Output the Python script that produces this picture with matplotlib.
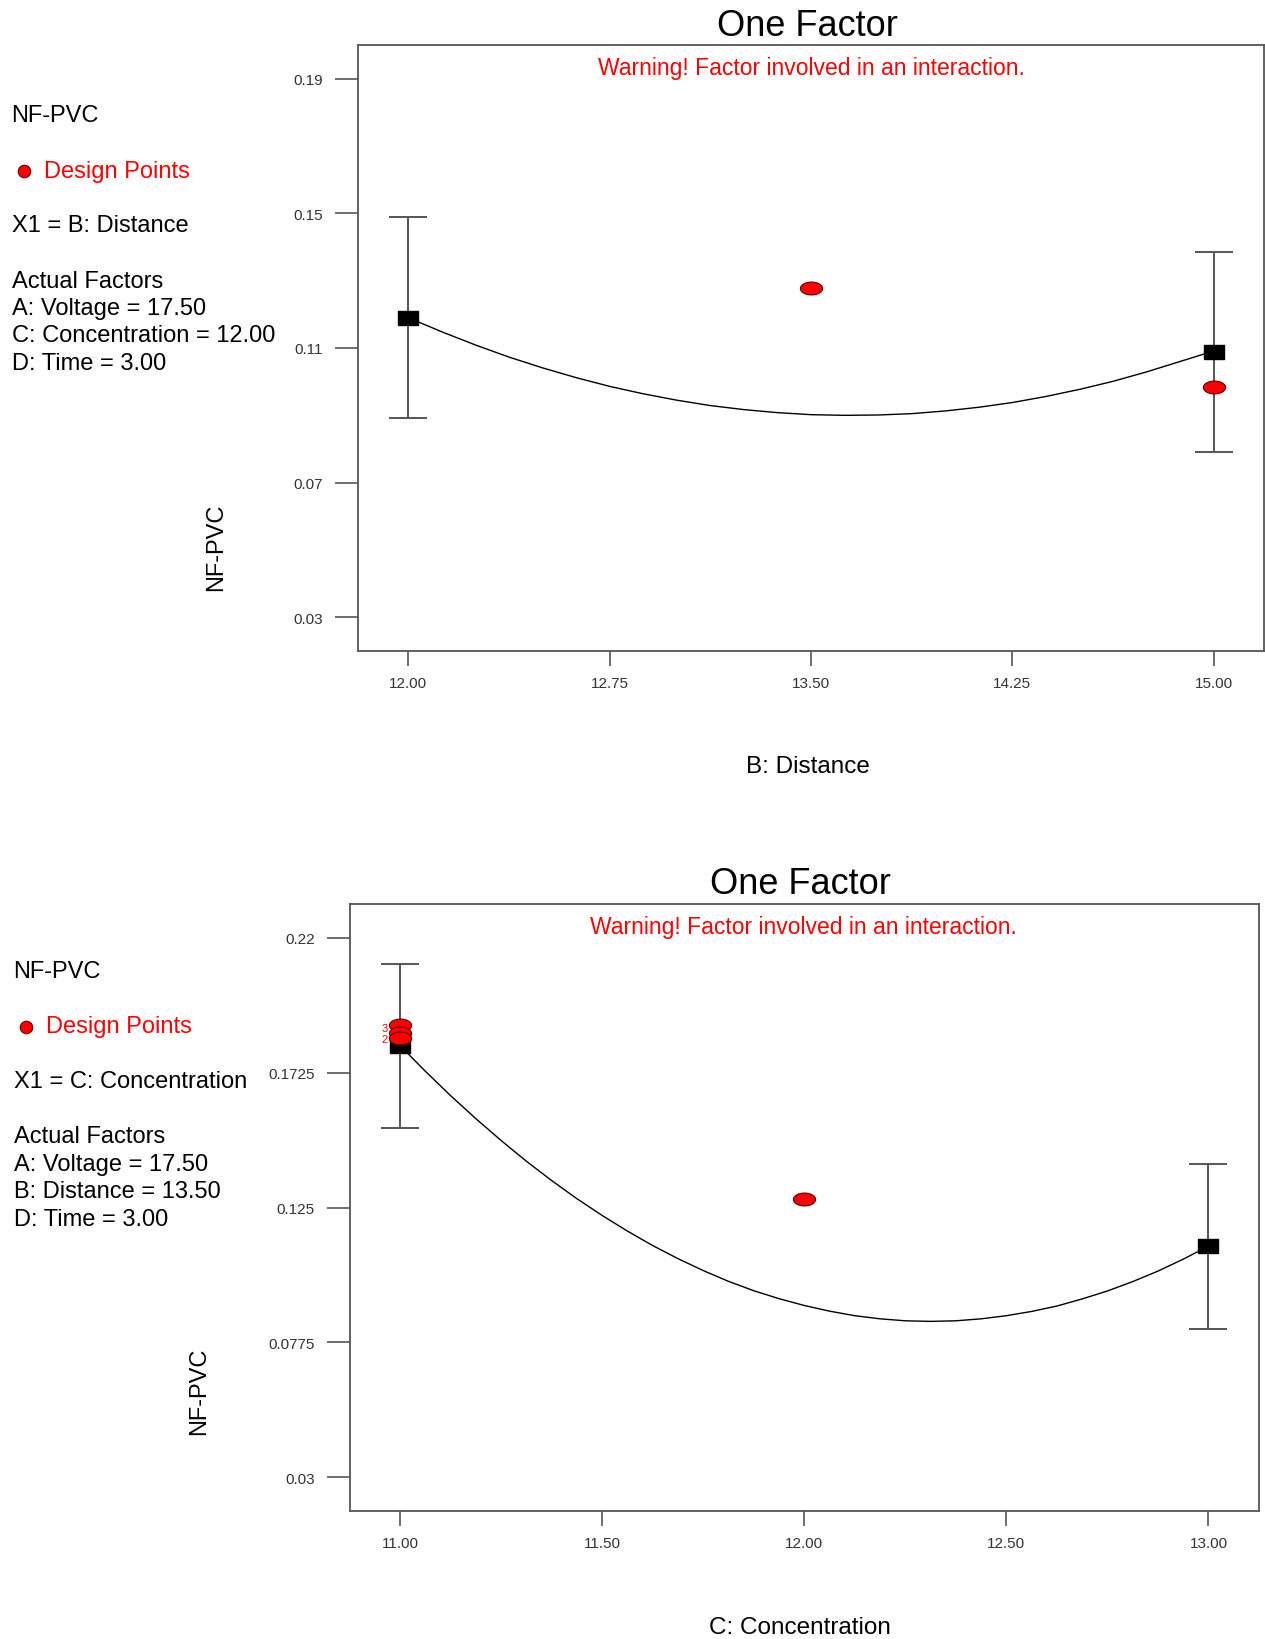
import numpy as np
import matplotlib.pyplot as plt

plt.rcParams['font.family'] = ['Liberation Sans', 'DejaVu Sans']

# ---- panel 1: B: Distance ----
dist_levels = [12.0, 15.0]
dist_pred = [0.119, 0.1088]
dist_err = [0.0298, 0.0297]
dist_design_x = [13.5, 15.0]
dist_design_y = [0.1278, 0.0985]
dist_curve_x = [12.0, 12.125, 12.25, 12.375, 12.5, 12.625, 12.75, 12.875, 13.0, 13.125,
                13.25, 13.375, 13.5, 13.625, 13.75, 13.875, 14.0, 14.125, 14.25, 14.375,
                14.5, 14.625, 14.75, 14.875, 15.0]
dist_curve_y = [0.1190, 0.1148, 0.1109, 0.1073, 0.1041, 0.1012, 0.0986, 0.0964, 0.0945, 0.0929,
                0.0917, 0.0908, 0.0902, 0.0900, 0.0901, 0.0905, 0.0913, 0.0924, 0.0938, 0.0956,
                0.0977, 0.1001, 0.1029, 0.1060, 0.1091]
dist_xticks = [12.00, 12.75, 13.50, 14.25, 15.00]
dist_yticks = [0.03, 0.07, 0.11, 0.15, 0.19]
dist_factors = ['A: Voltage = 17.50', 'C: Concentration = 12.00', 'D: Time = 3.00']

# ---- panel 2: C: Concentration ----
conc_levels = [11.0, 13.0]
conc_pred = [0.182, 0.1113]
conc_err = [0.0289, 0.029]
conc_design_x = [11.0, 11.0, 11.0, 12.0]
conc_design_y = [0.1891, 0.1865, 0.1847, 0.1280]
conc_curve_x = [11.0, 11.0625, 11.125, 11.1875, 11.25, 11.3125, 11.375, 11.4375, 11.5,
                11.5625, 11.625, 11.6875, 11.75, 11.8125, 11.875, 11.9375, 12.0,
                12.0625, 12.125, 12.1875, 12.25, 12.3125, 12.375, 12.4375, 12.5,
                12.5625, 12.625, 12.6875, 12.75, 12.8125, 12.875, 12.9375, 13.0]
conc_curve_y = [0.1820, 0.1730, 0.1644, 0.1563, 0.1486, 0.1413, 0.1345, 0.1281, 0.1222,
                0.1167, 0.1116, 0.1070, 0.1028, 0.0990, 0.0957, 0.0929, 0.0905,
                0.0885, 0.0869, 0.0858, 0.0851, 0.0849, 0.0851, 0.0858, 0.0869,
                0.0884, 0.0903, 0.0928, 0.0956, 0.0989, 0.1026, 0.1068, 0.1114]
conc_xticks = [11.00, 11.50, 12.00, 12.50, 13.00]
conc_yticks = [0.03, 0.0775, 0.125, 0.1725, 0.22]
conc_factors = ['A: Voltage = 17.50', 'B: Distance = 13.50', 'D: Time = 3.00']

W, H = 1265, 1640
fig = plt.figure(figsize=(W / 100, H / 100), dpi=100)


def fx(px):
    return px / W


def fy(py):
    return 1 - py / H


t = np.linspace(0, 2 * np.pi, 40)
ellipse = list(zip(np.cos(t), 0.58 * np.sin(t)))
rect = [(-1, -0.75), (1, -0.75), (1, 0.75), (-1, 0.75), (-1, -0.75)]


def panel(rect_ax, levels, pred, err, dx, dy, cx, cy, xticks, yticks):
    ax = fig.add_axes(rect_ax)
    ax.errorbar(levels, pred, yerr=err, fmt='none', ecolor='#555555', elinewidth=1.4,
                capsize=14, capthick=1.4, zorder=2)
    ax.plot(cx, cy, color='black', lw=1.0, zorder=3)
    ax.plot(levels, pred, linestyle='none', marker=rect, markersize=14, color='black', zorder=4)
    ax.plot(dx, dy, linestyle='none', marker=ellipse, markersize=16, markerfacecolor='red',
            markeredgecolor='#600000', markeredgewidth=0.8, zorder=5)
    xr = xticks[-1] - xticks[0]
    yr = yticks[-1] - yticks[0]
    ax.set_xlim(xticks[0] - 0.0625 * xr, xticks[-1] + 0.0625 * xr)
    ax.set_ylim(yticks[0] - 0.0625 * yr, yticks[-1] + 0.0625 * yr)
    ax.set_xticks(xticks)
    ax.set_xticklabels(['{:.2f}'.format(v) for v in xticks])
    ax.set_yticks(yticks)
    ax.set_yticklabels(['{:g}'.format(v) for v in yticks])
    ax.tick_params(axis='y', direction='out', length=16.5, width=1.2, color='#555555',
                   pad=8.5, labelsize=11, labelcolor='#333333')
    ax.tick_params(axis='x', direction='out', length=10.8, width=1.2, color='#555555',
                   pad=7, labelsize=11, labelcolor='#333333')
    for s in ax.spines.values():
        s.set_color('#555555')
        s.set_linewidth(1.3)
    return ax


ax1 = panel([fx(358), fy(652), fx(1264) - fx(358), fy(46) - fy(652)],
            dist_levels, dist_pred, dist_err, dist_design_x, dist_design_y,
            dist_curve_x, dist_curve_y, dist_xticks, dist_yticks)
ax2 = panel([fx(349.5), fy(1512), fx(1259) - fx(349.5), fy(905) - fy(1512)],
            conc_levels, conc_pred, conc_err, conc_design_x, conc_design_y,
            conc_curve_x, conc_curve_y, conc_xticks, conc_yticks)

# replicate counts next to the stacked points
ax2.annotate('3', (11.0, conc_design_y[0]), xytext=(-11, -2), textcoords='offset points',
             color='red', fontsize=8, ha='center', va='center')
ax2.annotate('2', (11.0, conc_design_y[2]), xytext=(-11, -1), textcoords='offset points',
             color='red', fontsize=8, ha='center', va='center')

texts = [
    # title xy, warning xy, x label, x label xy, y label xy, left column x, left column ys
    (807.7, 26, 811, 69, 'B: Distance', 807.7, 767, 216.6, 547, 11.5,
     [116, 171.6, 226, 281.5], 'X1 = B: Distance', dist_factors),
    (800.4, 885, 803.6, 928, 'C: Concentration', 800.4, 1628, 198.8, 1391.6, 13.6,
     [972, 1027.5, 1082, 1137.3], 'X1 = C: Concentration', conc_factors),
]

for (tx, ty, wx, wy, xl, xlx, xly, ylx, yly, lx, ly, x1, factors) in texts:
    fig.text(fx(tx), fy(ty), 'One Factor', fontsize=26, ha='center', va='center')
    fig.text(fx(wx), fy(wy), 'Warning! Factor involved in an interaction.', color='red',
             fontsize=16.5, ha='center', va='center')
    fig.text(fx(xlx), fy(xly), xl, fontsize=17.5, ha='center', va='center')
    fig.text(fx(ylx), fy(yly), 'NF-PVC', fontsize=17, ha='center', va='center', rotation=90)
    fig.text(fx(lx), fy(ly[0]), 'NF-PVC', fontsize=17, va='center')
    fig.add_artist(plt.Line2D([fx(lx + 12)], [fy(ly[1])], transform=fig.transFigure,
                              marker='o', markersize=9, markerfacecolor='red',
                              markeredgecolor='#600000', markeredgewidth=0.8))
    fig.text(fx(lx + 32), fy(ly[1]), 'Design Points', color='red', fontsize=17, va='center')
    fig.text(fx(lx), fy(ly[2]), x1, fontsize=17, va='center')
    fig.text(fx(lx), fy(ly[3]), 'Actual Factors', fontsize=17, va='center')
    for i, f in enumerate(factors):
        fig.text(fx(lx), fy(ly[3] + 27.4 * (i + 1)), f, fontsize=17, va='center')

fig.savefig('out.png', dpi=100)
